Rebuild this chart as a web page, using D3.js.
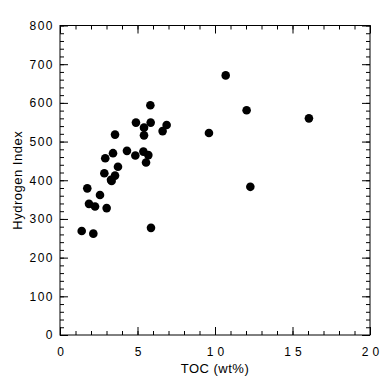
<!DOCTYPE html>
<html>
<head>
<meta charset="utf-8">
<script src="https://cdn.jsdelivr.net/npm/d3@7/dist/d3.min.js"></script>
<style>
  html, body { margin: 0; padding: 0; background: #fff; }
  svg { display: block; }
  text { font-family: "Liberation Sans", Arial, Helvetica, sans-serif; fill: #000; }
</style>
</head>
<body>
<svg id="chart" width="392" height="383"></svg>
<script>
// Data: TOC (wt%) vs Hydrogen Index
const toc = [1.76, 2.58, 2.92, 3.42, 3.55, 2.86, 3.29, 3.55, 3.74, 4.32, 4.86, 4.90, 5.42, 5.42, 5.83, 5.85, 5.38, 5.70, 5.55, 6.62, 6.88,
             1.87, 2.26, 3.01, 1.40, 2.15, 5.87, 3.33,
             10.69, 12.04, 16.06, 9.61, 12.28];
const hi  = [379, 362, 457, 470, 518, 418, 401, 412, 435, 476, 464, 549, 536, 516, 594, 549, 474, 465, 446, 527, 543,
             339, 332, 328, 269, 262, 277, 398,
             671, 581, 560, 522, 383];
const xTicks = [0, 5, 10, 15, 20];
const yTicks = [0, 100, 200, 300, 400, 500, 600, 700, 800];
const xLabel = "TOC (wt%)";
const yLabel = "Hydrogen Index";

const svg = d3.select("#chart");
const L = 60, R = 370, T = 25.5, B = 335;
const x = d3.scaleLinear().domain([0, 20]).range([L, R]);
const y = d3.scaleLinear().domain([0, 800]).range([B, T]);

const minorX = d3.range(0, 21, 1);
const minorY = d3.range(0, 801, 20);

function styleAxis(g) {
  g.select(".domain").remove();
  g.selectAll("line").attr("stroke", "#000").attr("stroke-width", 1);
}

// bottom
svg.append("g").attr("transform", `translate(0,${B})`)
  .call(d3.axisBottom(x).tickValues(minorX).tickSize(-4).tickFormat(""))
  .call(styleAxis);
const gxb = svg.append("g").attr("transform", `translate(0,${B})`)
  .call(d3.axisBottom(x).tickValues(xTicks).tickSize(-8).tickPadding(12).tickFormat(d3.format("d")))
  .call(styleAxis);
gxb.selectAll("text").attr("font-size", 12).style("letter-spacing", "4px")
  .attr("dx", "2px");
// top
svg.append("g").attr("transform", `translate(0,${T})`)
  .call(d3.axisTop(x).tickValues(minorX).tickSize(-4).tickFormat(""))
  .call(styleAxis);
svg.append("g").attr("transform", `translate(0,${T})`)
  .call(d3.axisTop(x).tickValues(xTicks).tickSize(-8).tickFormat(""))
  .call(styleAxis);
// left
svg.append("g").attr("transform", `translate(${L},0)`)
  .call(d3.axisLeft(y).tickValues(minorY).tickSize(-4).tickFormat(""))
  .call(styleAxis);
const gyl = svg.append("g").attr("transform", `translate(${L},0)`)
  .call(d3.axisLeft(y).tickValues(yTicks).tickSize(-8).tickPadding(6).tickFormat(d3.format("d")))
  .call(styleAxis);
gyl.selectAll("text").attr("font-size", 12).style("letter-spacing", "1.5px");
// right
svg.append("g").attr("transform", `translate(${R},0)`)
  .call(d3.axisRight(y).tickValues(minorY).tickSize(-4).tickFormat(""))
  .call(styleAxis);
svg.append("g").attr("transform", `translate(${R},0)`)
  .call(d3.axisRight(y).tickValues(yTicks).tickSize(-8).tickFormat(""))
  .call(styleAxis);

// frame
svg.append("rect").attr("x", L).attr("y", T).attr("width", R - L).attr("height", B - T)
  .attr("fill", "none").attr("stroke", "#000").attr("stroke-width", 1);

// points
svg.append("g").selectAll("circle").data(toc.map((d, i) => [d, hi[i]])).join("circle")
  .attr("cx", d => x(d[0])).attr("cy", d => y(d[1])).attr("r", 4.3).attr("fill", "#000");

// axis titles
svg.append("text").attr("x", (L + R) / 2).attr("y", 373).attr("text-anchor", "middle")
  .attr("font-size", 13).style("letter-spacing", "0.5px").text(xLabel);
svg.append("text").attr("transform", `translate(21.5,${(T + B) / 2}) rotate(-90)`)
  .attr("text-anchor", "middle").attr("font-size", 13).style("letter-spacing", "0.5px").text(yLabel);
</script>
</body>
</html>
